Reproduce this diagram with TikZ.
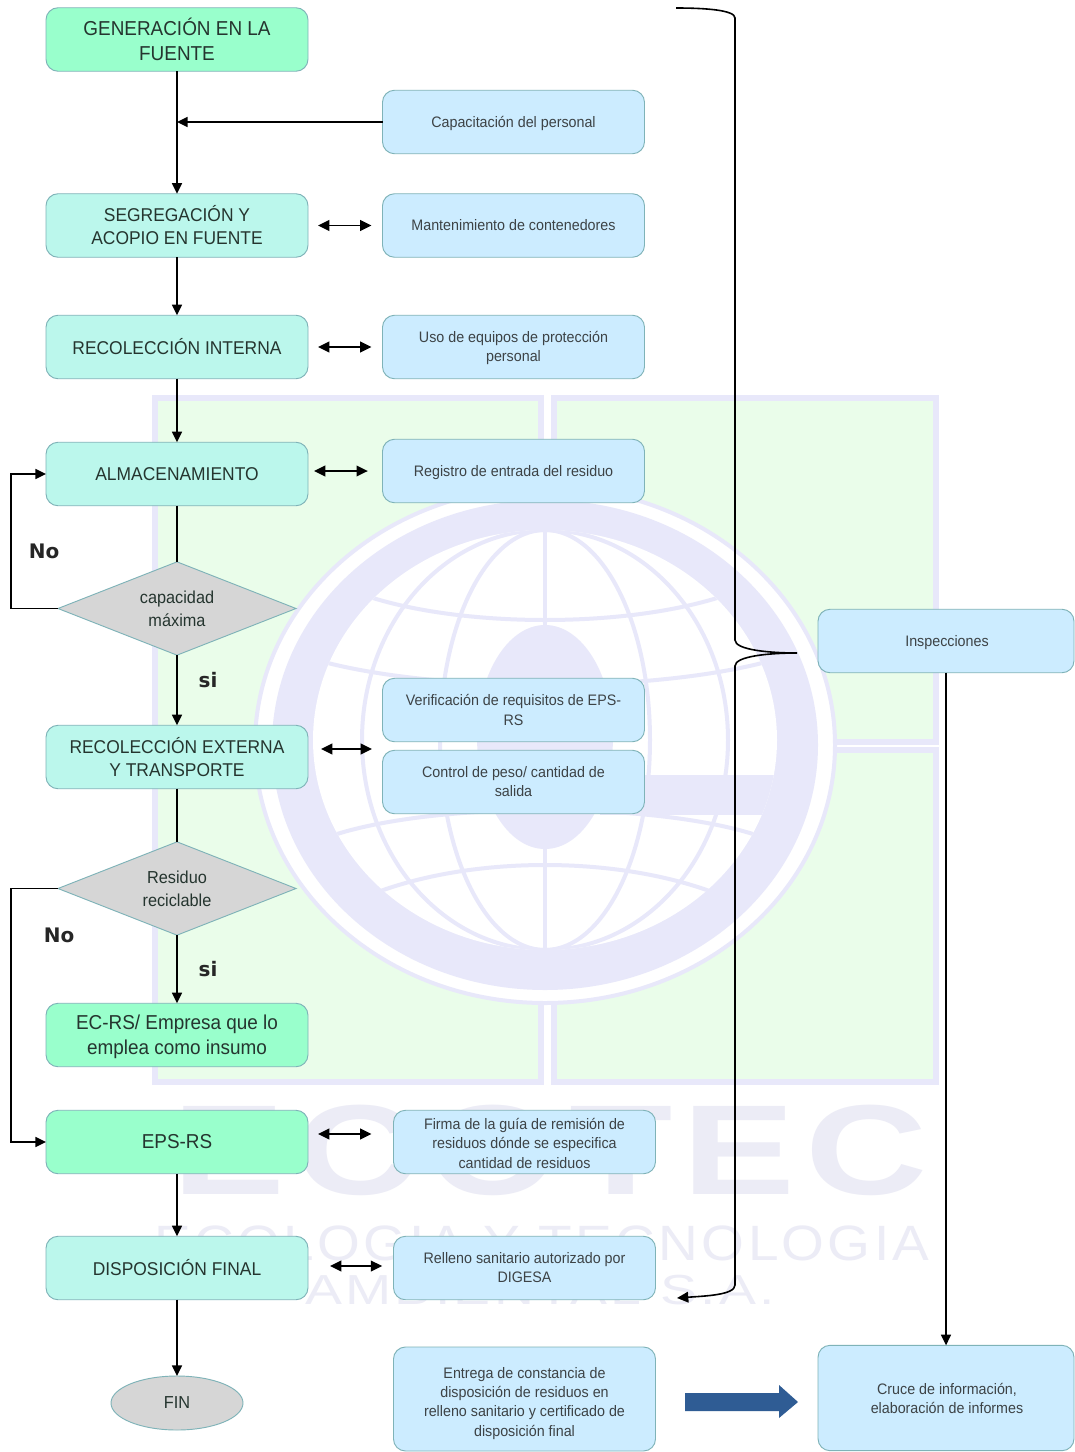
\documentclass[tikz,border=0pt]{standalone}
\usepackage{fontspec}
\usepackage{graphicx}
\usetikzlibrary{arrows.meta,shapes.geometric,calc}
\setmainfont{Liberation Sans}
\newfontfamily\narrowfont[FakeStretch=0.94]{Liberation Sans}
\newfontfamily\wmfont[LetterSpace=6]{Liberation Sans}
\newfontfamily\labelfont{DejaVu Sans}
\definecolor{gbox}{HTML}{99FFCC}
\definecolor{tbox}{HTML}{BBF7EC}
\definecolor{bbox}{HTML}{CCECFF}
\definecolor{edge}{HTML}{7FB3B8}
\definecolor{gbase}{HTML}{D6D6D6}
\definecolor{wmgreen}{HTML}{EAFDEA}
\definecolor{wmlav}{HTML}{E8E8FA}
\definecolor{wmtext}{HTML}{ECECF6}
\definecolor{txtA}{HTML}{25352F}
\definecolor{txtB}{HTML}{3D4346}
\definecolor{bigarrow}{HTML}{2F5C94}
\tikzset{
  basebox/.style={draw=edge,line width=0.7pt,rounded corners=9pt,align=center,inner sep=0pt,outer sep=0pt,
    minimum width=196.5pt,minimum height=47.6pt,text=txtA},
  greenbox/.style={basebox,fill=gbox,font=\fontsize{15.1}{18.8}\selectfont\narrowfont},
  tealbox/.style={basebox,fill=tbox,font=\fontsize{13.9}{17.3}\selectfont\narrowfont},
  bluebox/.style={basebox,fill=bbox,text=txtB,font=\fontsize{11.4}{14.3}\selectfont\narrowfont},
  decision/.style={diamond,draw=edge,line width=0.7pt,fill=gbase,align=center,inner sep=0pt,outer sep=0pt,
    minimum width=178.5pt,minimum height=70pt,aspect=2.55,text=txtA,font=\fontsize{13}{17}\selectfont\narrowfont},
  endnode/.style={ellipse,draw=edge,line width=0.7pt,fill=gbase,inner sep=0pt,outer sep=0pt,
    minimum width=99pt,minimum height=40.5pt,text=txtA,font=\fontsize{13}{17}\selectfont\narrowfont},
  flow/.style={draw=black,line width=1.25pt,-{Triangle[length=8pt,width=7.5pt]}},
  plainflow/.style={draw=black,line width=1.25pt},
  both/.style={draw=black,line width=1.25pt,{Triangle[length=8.5pt,width=8pt]}-{Triangle[length=8.5pt,width=8pt]}},
  answer/.style={font=\fontsize{15}{17}\selectfont\labelfont\bfseries,text=black!85},
  wmcell/.style={fill=wmgreen,draw=wmlav,line width=5pt},
  wmline/.style={draw=wmlav,line width=3pt},
  wmword/.style={inner sep=0pt,outer sep=0pt,text=wmtext},
}
\begin{document}
\begin{tikzpicture}[x=0.75pt,y=-0.75pt]
\useasboundingbox[fill=white] (0,0) rectangle (1074,1452);
% watermark
\path[wmcell] (155,398) rectangle (541,742);
\path[wmcell] (155,750) rectangle (541,1082);
\path[wmcell] (554,398) rectangle (936,742);
\path[wmcell] (554,750) rectangle (936,1082);
\path[fill=white,draw=wmlav,line width=3pt] (545,745) ellipse [x radius=290,y radius=258];
\path[fill=wmlav] (545,745) ellipse [x radius=273,y radius=245];
\path[fill=white] (545,740) ellipse [x radius=232,y radius=210];
\begin{scope}
\clip (545,740) ellipse [x radius=232,y radius=210];
\path[wmline] (545,520) -- (545,960);
\path[wmline] (545,740) ellipse [x radius=105,y radius=210];
\path[wmline] (545,740) ellipse [x radius=183,y radius=210];
\path[wmline] (350,590) .. controls (450,630) and (640,630) .. (740,590);
\path[wmline] (300,655) .. controls (420,695) and (670,695) .. (790,655);
\path[wmline] (320,840) .. controls (420,800) and (670,800) .. (770,840);
\path[wmline] (370,895) .. controls (470,855) and (620,855) .. (720,895);
\path[fill=wmlav] (545,737) ellipse [x radius=68,y radius=112];
\path[fill=wmlav] (600,775) rectangle (790,815);
\end{scope}
\node[wmword] (wmA) at (550,1150) {\resizebox{566pt}{67pt}{\wmfont\bfseries ECOTEC}};
\node[wmword] (wmB) at (542,1243) {\resizebox{581pt}{26pt}{\wmfont ECOLOGIA Y TECNOLOGIA}};
\node[wmword] (wmC) at (540,1290) {\resizebox{352pt}{22pt}{\wmfont AMBIENTAL S.A.}};
% flow column
\node[greenbox] (gen) at (177,39.5) {GENERACIÓN EN LA\\FUENTE};
\node[tealbox] (seg) at (177,225.5) {SEGREGACIÓN Y\\ACOPIO EN FUENTE};
\node[tealbox] (rec) at (177,347) {RECOLECCIÓN INTERNA};
\node[tealbox] (alm) at (177,474) {ALMACENAMIENTO};
\node[decision] (dec1) at (177,608.5) {capacidad\\máxima};
\node[tealbox] (ext) at (177,757) {RECOLECCIÓN EXTERNA\\Y TRANSPORTE};
\node[decision] (dec2) at (177,888.5) {Residuo\\reciclable};
\node[greenbox] (ecrs) at (177,1035) {\rule{0pt}{14pt}EC-RS/ Empresa que lo\\emplea como insumo};
\node[greenbox] (eps) at (177,1142) {EPS-RS};
\node[tealbox] (dsp) at (177,1268) {DISPOSICIÓN FINAL};
\node[endnode] (fin) at (177,1403) {FIN};
% support column
\node[bluebox] (cap) at (513.5,122) {\rule{0pt}{10.5pt}Capacitación del personal};
\node[bluebox] (man) at (513.5,225.5) {Mantenimiento de contenedores};
\node[bluebox] (uso) at (513.5,347) {\rule{0pt}{10.5pt}Uso de equipos de protección\\personal};
\node[bluebox] (reg) at (513.5,471) {\rule{0pt}{10.5pt}Registro de entrada del residuo};
\node[bluebox] (ver) at (513.5,710) {Verificación de requisitos de EPS-\\RS};
\node[bluebox] (ctr) at (513.5,782) {Control de peso/ cantidad de\\salida};
\node[bluebox] (fir) at (524.5,1142) {\rule{0pt}{10.5pt}Firma de la guía de remisión de\\residuos dónde se especifica\\cantidad de residuos};
\node[bluebox] (rel) at (524.5,1268) {Relleno sanitario autorizado por\\DIGESA};
\node[bluebox,minimum height=78pt] (ent) at (524.5,1399) {\rule{0pt}{15pt}Entrega de constancia de\\disposición de residuos en\\relleno sanitario y certificado de\\disposición final};
\node[bluebox,minimum width=192pt] (ins) at (946,641) {\hspace{1.5pt}\rule{0pt}{11.2pt}Inspecciones};
\node[bluebox,minimum width=192pt,minimum height=79pt] (cru) at (946,1398) {\hspace{1.5pt}Cruce de información,\\\hspace{1.5pt}elaboración de informes};
% free connector ends
\coordinate (extmid) at (383,749);
\coordinate (extleft) at (308,749);
\coordinate (lefta) at (11,608.5);
\coordinate (leftb) at (11,888.5);
\coordinate (brtop) at (676,8);
\coordinate (brtip) at (797,653);
\coordinate (brend) at (677,1298);
% connectors
\draw[flow] (gen) -- (seg);
\draw[flow] (cap.west) -- (cap.west -| gen.south);
\draw[flow] (seg) -- (rec);
\draw[flow] (rec) -- (alm);
\draw[plainflow] (alm) -- (dec1);
\draw[flow] (dec1) -- (ext);
\draw[plainflow] (ext) -- (dec2);
\draw[flow] (dec2) -- (ecrs);
\draw[flow] (eps) -- (dsp);
\draw[flow] (dsp) -- (fin);
\draw[flow] (dec1.west) -- (lefta) |- (alm.west);
\draw[flow] (dec2.west) -- (leftb) |- (eps.west);
\draw[both,shorten <=7.5pt,shorten >=8.25pt] (seg.east) -- (man.west);
\draw[both,shorten <=7.5pt,shorten >=8.25pt] (rec.east) -- (uso.west);
\draw[both,shorten <=4.5pt,shorten >=11pt] (reg.west -| alm.east) -- (reg.west);
\draw[both,shorten <=9.75pt,shorten >=8.25pt] (extleft) -- (extmid);
\draw[both,shorten <=7.5pt,shorten >=16.5pt] ($(eps.east)+(0,-8)$) -- ($(fir.west)+(0,-8)$);
\draw[both,shorten <=16.5pt,shorten >=8.5pt] ($(dsp.east)+(0,-2)$) -- ($(rel.west)+(0,-2)$);
\draw[flow] (ins.south) -- (cru.north);
\draw[draw=black,line width=1.2pt,-{Triangle[length=8.5pt,width=8pt]}]
  (brtop) .. controls (705,8) and (735,10) .. (735,18)
  -- (735,640) .. controls (735,650) and (770,653) .. (brtip)
  .. controls (770,653) and (735,656) .. (735,666)
  -- (735,1285) .. controls (735,1295) and (705,1296) .. (brend);
% block arrow between the last two boxes
\path[fill=bigarrow] (685,1393) -- (779,1393) -- (779,1385) -- (798,1402) -- (779,1418) -- (779,1411) -- (685,1411) -- cycle;
% answers
\node[answer] (no1) at (44,551) {No};
\node[answer] (si1) at (208,680) {si};
\node[answer] (no2) at (59,935) {No};
\node[answer] (si2) at (208,969) {si};
\end{tikzpicture}
\end{document}
